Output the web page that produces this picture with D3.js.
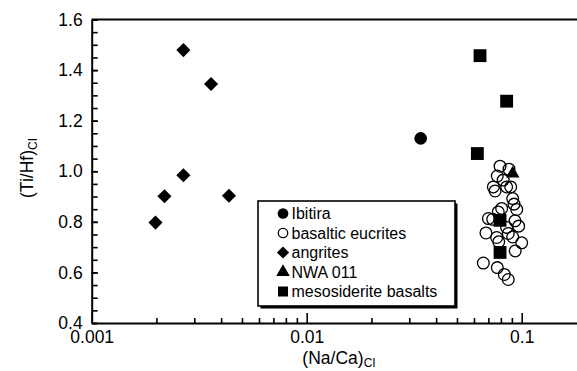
<!DOCTYPE html>
<html>
<head>
<meta charset="utf-8">
<script src="https://cdn.jsdelivr.net/npm/d3@7"></script>
<style>
  html, body { margin: 0; padding: 0; background: #fff; }
  svg { display: block; }
  text { font-family: "Liberation Sans", Arial, sans-serif; fill: #000; }
</style>
</head>
<body>
<svg id="chart" width="577" height="371"></svg>
<script>
// ---- data ----
const angritesX = [0.00267, 0.00359, 0.00267, 0.00218, 0.00435, 0.00198];
const angritesY = [1.479, 1.345, 0.984, 0.901, 0.903, 0.797];

const ibitiraX = [0.0339];
const ibitiraY = [1.130];

const mesosideriteX = [0.0640, 0.0851, 0.0622, 0.0793, 0.0793];
const mesosideriteY = [1.457, 1.277, 1.070, 0.806, 0.679];

const nwa011X = [0.0908];
const nwa011Y = [0.991];

const eucritesX = [0.0793, 0.0873, 0.0770, 0.0820, 0.0738, 0.0752, 0.0851, 0.0889,
                   0.0908, 0.0921, 0.0948, 0.0807, 0.0778, 0.0700, 0.0733, 0.0931,
                   0.0968, 0.0851, 0.0866, 0.0682, 0.0765, 0.0908, 0.0782, 0.1000,
                   0.0933, 0.0663, 0.0770, 0.0830, 0.0866];
const eucritesY = [1.020, 1.008, 0.981, 0.965, 0.938, 0.922, 0.938, 0.938,
                   0.892, 0.870, 0.849, 0.853, 0.839, 0.813, 0.810, 0.804,
                   0.783, 0.778, 0.754, 0.756, 0.738, 0.740, 0.721, 0.717,
                   0.685, 0.637, 0.619, 0.592, 0.572];

const xMajorTicks = [0.001, 0.01, 0.1];
const xTickLabels = ["0.001", "0.01", "0.1"];
const yMajorTicks = [0.4, 0.6, 0.8, 1.0, 1.2, 1.4, 1.6];
const yTickLabels = ["0.4", "0.6", "0.8", "1.0", "1.2", "1.4", "1.6"];

const legendLabels = ["Ibitira", "basaltic eucrites", "angrites", "NWA 011", "mesosiderite basalts"];

// ---- layout ----
const svg = d3.select("#chart");
const mLeft = 91.7, mTop = 19.5, mBottom = 323;
const decade = 215;

const x = d3.scaleLog().domain([0.001, 1]).range([mLeft, mLeft + 3 * decade]);
const y = d3.scaleLinear().domain([0.4, 1.6]).range([mBottom, mTop]);

// minor tick values
const xMinor = [];
[0.001, 0.01, 0.1].forEach(b => { for (let k = 2; k <= 9; k++) xMinor.push(+(b * k).toPrecision(3)); });
const yMinor = d3.range(0, 25).map(i => +(0.4 + i * 0.05).toFixed(2));

// top border
svg.append("line")
  .attr("x1", mLeft).attr("x2", x(1)).attr("y1", y(1.6)).attr("y2", y(1.6))
  .attr("stroke", "#000").attr("stroke-width", 2);

// x minor ticks
const gxMinor = svg.append("g").attr("transform", `translate(0,${mBottom})`)
  .call(d3.axisBottom(x).tickValues(xMinor).tickSizeInner(-5).tickSizeOuter(0).tickFormat(""));
gxMinor.select(".domain").remove();
gxMinor.selectAll("line").attr("stroke", "#000").attr("stroke-width", 1.6);

// x major axis
const gx = svg.append("g").attr("transform", `translate(0,${mBottom})`)
  .call(d3.axisBottom(x).tickValues(xMajorTicks).tickSizeInner(-10).tickSizeOuter(0)
    .tickPadding(8).tickFormat((d, i) => xTickLabels[i]));
gx.select(".domain").attr("stroke", "#000").attr("stroke-width", 2);
gx.selectAll("line").attr("stroke", "#000").attr("stroke-width", 1.6);
gx.selectAll("text").style("font-size", "17.5px").style("font-family", '"Liberation Sans", Arial, sans-serif').attr("fill", "#000");

// y axis
const gyMinor = svg.append("g").attr("transform", `translate(${mLeft},0)`)
  .call(d3.axisLeft(y).tickValues(yMinor).tickSizeInner(-6).tickSizeOuter(0).tickFormat(""));
gyMinor.select(".domain").remove();
gyMinor.selectAll("line").attr("stroke", "#000").attr("stroke-width", 1.6);

const gy = svg.append("g").attr("transform", `translate(${mLeft},0)`)
  .call(d3.axisLeft(y).tickValues(yMajorTicks).tickSizeInner(-6).tickSizeOuter(0)
    .tickPadding(9).tickFormat((d, i) => yTickLabels[i]));
gy.select(".domain").attr("stroke", "#000").attr("stroke-width", 2);
gy.selectAll("line").attr("stroke", "#000").attr("stroke-width", 1.6);
gy.selectAll("text").style("font-size", "17.5px").style("font-family", '"Liberation Sans", Arial, sans-serif').attr("fill", "#000");

// axis titles
const xt = svg.append("text").attr("x", 339).attr("y", 364).attr("text-anchor", "middle")
  .style("font-size", "17.5px");
xt.append("tspan").text("(Na/Ca)");
xt.append("tspan").attr("dy", 3).style("font-size", "12px").text("CI");

const yt = svg.append("text").attr("transform", "translate(33,168) rotate(-90)")
  .attr("text-anchor", "middle").style("font-size", "17.5px");
yt.append("tspan").text("(Ti/Hf)");
yt.append("tspan").attr("dy", 4).style("font-size", "12px").text("CI");

// ---- marks ----
const sym = {
  circle: d3.symbol().type(d3.symbolCircle).size(125),
  open: d3.symbol().type(d3.symbolCircle).size(108),
  diamond: d3.symbol().type(d3.symbolSquare).size(100),
  triangle: d3.symbol().type(d3.symbolTriangle).size(80),
  square: d3.symbol().type(d3.symbolSquare).size(165)
};

function plot(xs, ys, kind) {
  const data = xs.map((v, i) => [v, ys[i]]);
  const g = svg.append("g");
  g.selectAll("path").data(data).join("path")
    .attr("d", sym[kind])
    .attr("transform", d => `translate(${x(d[0])},${y(d[1])})` + (kind === "diamond" ? " rotate(45)" : ""))
    .attr("fill", kind === "open" ? "none" : "#000")
    .attr("stroke", kind === "open" ? "#000" : "none")
    .attr("stroke-width", 1.3);
}

plot(eucritesX, eucritesY, "open");
plot(mesosideriteX, mesosideriteY, "square");
plot(nwa011X, nwa011Y, "triangle");
plot(angritesX, angritesY, "diamond");
plot(ibitiraX, ibitiraY, "circle");

// ---- legend ----
const lg = svg.append("g");
const bx = 258, by = 201, bw = 197, bh = 105;
lg.append("rect").attr("x", bx + 2.5).attr("y", by + 2.5).attr("width", bw).attr("height", bh).attr("fill", "#000");
lg.append("rect").attr("x", bx).attr("y", by).attr("width", bw).attr("height", bh)
  .attr("fill", "#fff").attr("stroke", "#000").attr("stroke-width", 1.6);

const legendKinds = ["circle", "open", "diamond", "triangle", "square"];
const legendSizes = { circle: 90, open: 70, diamond: 75, triangle: 80, square: 100 };
const baselines = [219, 238.5, 258, 277.5, 297];
legendLabels.forEach((lab, i) => {
  const kind = legendKinds[i];
  const s = d3.symbol().type(kind === "circle" || kind === "open" ? d3.symbolCircle :
            kind === "triangle" ? d3.symbolTriangle : d3.symbolSquare).size(legendSizes[kind]);
  lg.append("path").attr("d", s)
    .attr("transform", `translate(283,${baselines[i] - 5.5})` + (kind === "diamond" ? " rotate(45)" : ""))
    .attr("fill", kind === "open" ? "none" : "#000")
    .attr("stroke", kind === "open" ? "#000" : "none").attr("stroke-width", 1.3);
  lg.append("text").attr("x", 291.5).attr("y", baselines[i]).style("font-size", "16px").text(lab);
});
</script>
</body>
</html>
